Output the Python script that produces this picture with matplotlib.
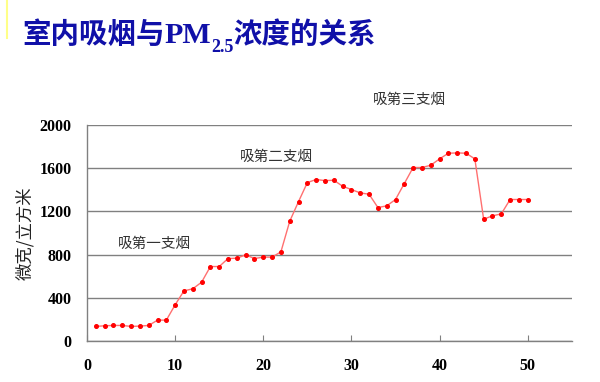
import numpy as np
import matplotlib.pyplot as plt
from matplotlib.lines import Line2D

plt.rcParams['font.family'] = ['Noto Sans CJK SC', 'DejaVu Sans']

# 数据：吸烟次序 vs PM2.5 浓度 (微克/立方米)
minutes = list(range(1, 51))
pm25 = [136, 142, 145, 145, 136, 139, 145, 194, 194, 336,
        465, 484, 545, 690, 690, 764, 767, 798, 764, 777,
        777, 826, 1109, 1291, 1467, 1495, 1485, 1488, 1433, 1402,
        1371, 1359, 1236, 1251, 1310, 1458, 1606, 1606, 1627, 1686,
        1738, 1741, 1738, 1686, 1128, 1159, 1177, 1310, 1310, 1310]

x_ticks = [0, 10, 20, 30, 40, 50]
y_ticks = [0, 400, 800, 1200, 1600, 2000]

notes = ['吸第一支烟', '吸第二支烟', '吸第三支烟']
note_pos = [(3.5, 860), (17.3, 1665), (32.4, 2195)]

fig = plt.figure(figsize=(6.0, 3.82), dpi=100)
ax = fig.add_axes([0.145, 0.107, 0.808, 0.566])

ax.plot(minutes, pm25, color='#ff7070', linewidth=1.0, zorder=3)
ax.plot(minutes, pm25, linestyle='none', marker='o', markersize=2.6,
        color='#ff0000', zorder=4)

ax.set_xlim(0, 55)
ax.set_ylim(0, 2000)
ax.set_xticks(x_ticks)
ax.set_yticks(y_ticks)
ax.yaxis.grid(True, color='#808080', linewidth=1.0)
ax.set_axisbelow(True)

for s in ['top', 'right']:
    ax.spines[s].set_visible(False)
for s in ['left', 'bottom']:
    ax.spines[s].set_color('#808080')
    ax.spines[s].set_linewidth(1.0)

tick_font = dict(family='Liberation Serif', weight='bold', size=11.5)
ax.set_xticklabels([str(v) for v in x_ticks], fontdict=tick_font)
ax.set_yticklabels([str(v) for v in y_ticks], fontdict=tick_font)
ax.tick_params(axis='x', direction='in', length=4, color='#808080', pad=12)
ax.tick_params(axis='y', length=0, pad=11)

ax.set_ylabel('微克/立方米', fontsize=12.5, color='#222222', labelpad=4)

for txt, (xx, yy) in zip(notes, note_pos):
    ax.text(xx, yy, txt, fontsize=10.5, color='#333333', clip_on=False)

# 标题，分段拼接以便 PM2.5 使用下标
blue = '#1010a8'
t1 = fig.text(0.037, 0.888, '室内吸烟与', fontsize=20.5, weight='bold', color=blue,
              va='baseline')
t2 = ax.annotate('PM', xy=(1, 0), xycoords=t1, fontsize=21.5, weight='bold',
                 family='Liberation Serif', color=blue, va='bottom',
                 annotation_clip=False)
t3 = ax.annotate('2.5', xy=(1, 0), xycoords=t2, xytext=(0, -5),
                 textcoords='offset points', fontsize=13, weight='bold',
                 family='Liberation Serif', color=blue, va='bottom',
                 annotation_clip=False)
t4 = ax.annotate('浓度的关系', xy=(1, 0), xycoords=t3, xytext=(0, 5),
                 textcoords='offset points', fontsize=20.5, weight='bold',
                 color=blue, va='bottom', annotation_clip=False)

fig.add_artist(Line2D([0.012, 0.012], [0.90, 1.0], color='#ffff88',
                      linewidth=1.5, transform=fig.transFigure))

fig.savefig('out.png', dpi=100)
